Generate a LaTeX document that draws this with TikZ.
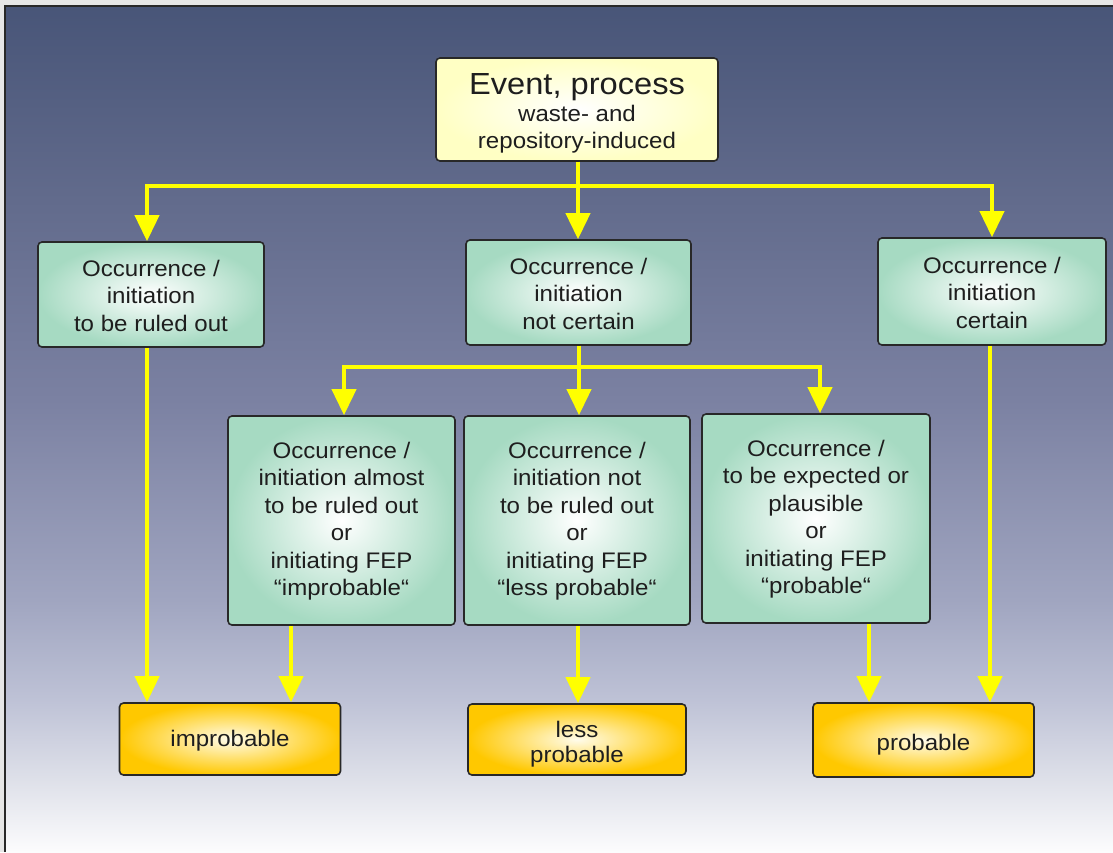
\documentclass[tikz,border=0pt]{standalone}
\usepackage{fontspec}
\setmainfont[FakeStretch=1.07]{Liberation Sans}
\usetikzlibrary{arrows.meta}
\definecolor{bgA}{RGB}{72,85,120}
\definecolor{bgB}{RGB}{98,107,140}
\definecolor{bgC}{RGB}{123,129,162}
\definecolor{bgD}{RGB}{160,165,192}
\definecolor{bgE}{RGB}{190,194,214}
\definecolor{bgF}{RGB}{222,224,233}
\definecolor{bgG}{RGB}{252,252,253}
\definecolor{outgray}{RGB}{230,230,230}
\definecolor{framec}{RGB}{40,40,40}
\definecolor{bordc}{RGB}{40,40,40}
\definecolor{txtc}{RGB}{30,30,30}
\definecolor{mint}{RGB}{166,218,194}
\definecolor{gold}{RGB}{255,200,0}
\definecolor{goldin}{RGB}{255,252,235}
\definecolor{paley}{RGB}{255,255,196}
\definecolor{yel}{RGB}{255,255,0}
\pgfdeclareverticalshading{bgshade}{100bp}{color(0bp)=(bgG); color(25bp)=(bgG); color(29.3bp)=(bgF); color(34bp)=(bgE); color(39.9bp)=(bgD); color(51.7bp)=(bgC); color(63.5bp)=(bgB); color(75bp)=(bgA); color(100bp)=(bgA)}
\begin{document}
\begin{tikzpicture}[x=1pt,y=-1pt,
  txt/.style={text=txtc, align=center, font=\fontsize{22.5}{27.5}\selectfont, inner sep=0pt},
  boxbase/.style={txt, draw=bordc, line width=1.6pt, rounded corners=4pt},
  gbox/.style={boxbase, inner color=white, outer color=mint},
  ybox/.style={boxbase, inner color=goldin, outer color=gold},
  tbox/.style={boxbase, inner color=white, outer color=paley},
  yarrow/.style={draw=yel, line width=4pt, -{Triangle[width=24pt,length=26pt]}}]
\useasboundingbox (0,0) rectangle (1113,852);
\fill[outgray] (0,0) rectangle (1113,852);
\shade[shading=bgshade] (4.5,5.5) rectangle (1113,852);
\draw[framec, line width=2pt] (4.5,852) -- (4.5,5.5) -- (1113,5.5);

% nodes
\node[tbox, minimum width=282, minimum height=103] (top) at (577,109.5)
  {{\fontsize{30.5}{30}\selectfont\rule{0pt}{29pt}Event, process}\\[-1pt]
   \fontsize{22.5}{25}\selectfont waste- and\\ repository-induced};
\node[gbox, minimum width=226, minimum height=105] (b1) at (151,294.5)
  {\rule{0pt}{19pt}Occurrence /\\ initiation\\ to be ruled out};
\node[gbox, minimum width=225, minimum height=105] (b2) at (578.5,292.5)
  {\rule{0pt}{19pt}Occurrence /\\ initiation\\ not certain};
\node[gbox, minimum width=228, minimum height=107] (b3) at (992,291.5)
  {\rule{0pt}{19pt}Occurrence /\\ initiation\\ certain};
\node[gbox, minimum width=227, minimum height=209] (ca) at (341.5,520.5)
  {\rule{0pt}{18pt}Occurrence /\\ initiation almost\\ to be ruled out\\ or\\ initiating FEP\\ “improbable“};
\node[gbox, minimum width=226, minimum height=209] (cb) at (577,520.5)
  {\rule{0pt}{18pt}Occurrence /\\ initiation not\\ to be ruled out\\ or\\ initiating FEP\\ “less probable“};
\node[gbox, minimum width=228, minimum height=209] (cc) at (816,518.5)
  {\rule{0pt}{18pt}Occurrence /\\ to be expected or\\ plausible\\ or\\ initiating FEP\\ “probable“};
\node[ybox, minimum width=221, minimum height=72] (imp) at (230,739)
  {\rule{0pt}{20.5pt}improbable};
\node[ybox, minimum width=218, minimum height=71, font=\fontsize{22.5}{25}\selectfont] (less) at (577,739.5)
  {\rule{0pt}{25.5pt}less\\ probable};
\node[ybox, minimum width=221, minimum height=74] (prob) at (923.5,740)
  {\rule{0pt}{26.5pt}probable};

% junction coordinates
\coordinate (j1) at (578,186);
\coordinate (bL) at (147,186);
\coordinate (bR) at (992,186);
\coordinate (j2) at (579,367);
\coordinate (cL) at (344,367);
\coordinate (cR) at (820,367);
\coordinate (xa) at (147,0);
\coordinate (xb) at (291,0);
\coordinate (xc) at (578,0);
\coordinate (xd) at (869,0);
\coordinate (xe) at (990,0);

% first level
\draw[yarrow] (j1 |- top.south) -- (j1) -| (b1.north -| bL);
\draw[yarrow] (j1 |- top.south) -- (j1) -| (b3.north -| bR);
\draw[yarrow] (j1 |- top.south) -- (j1 |- b2.north);
% second level
\draw[yarrow] (j2 |- b2.south) -- (j2) -| (ca.north -| cL);
\draw[yarrow] (j2 |- b2.south) -- (j2) -| (cc.north -| cR);
\draw[yarrow] (j2 |- b2.south) -- (j2 |- cb.north);
% to results
\draw[yarrow] (b1.south -| xa) -- (imp.north -| xa);
\draw[yarrow] (ca.south -| xb) -- (imp.north -| xb);
\draw[yarrow] (cb.south -| xc) -- (less.north -| xc);
\draw[yarrow] (cc.south -| xd) -- (prob.north -| xd);
\draw[yarrow] (b3.south -| xe) -- (prob.north -| xe);
\end{tikzpicture}
\end{document}
